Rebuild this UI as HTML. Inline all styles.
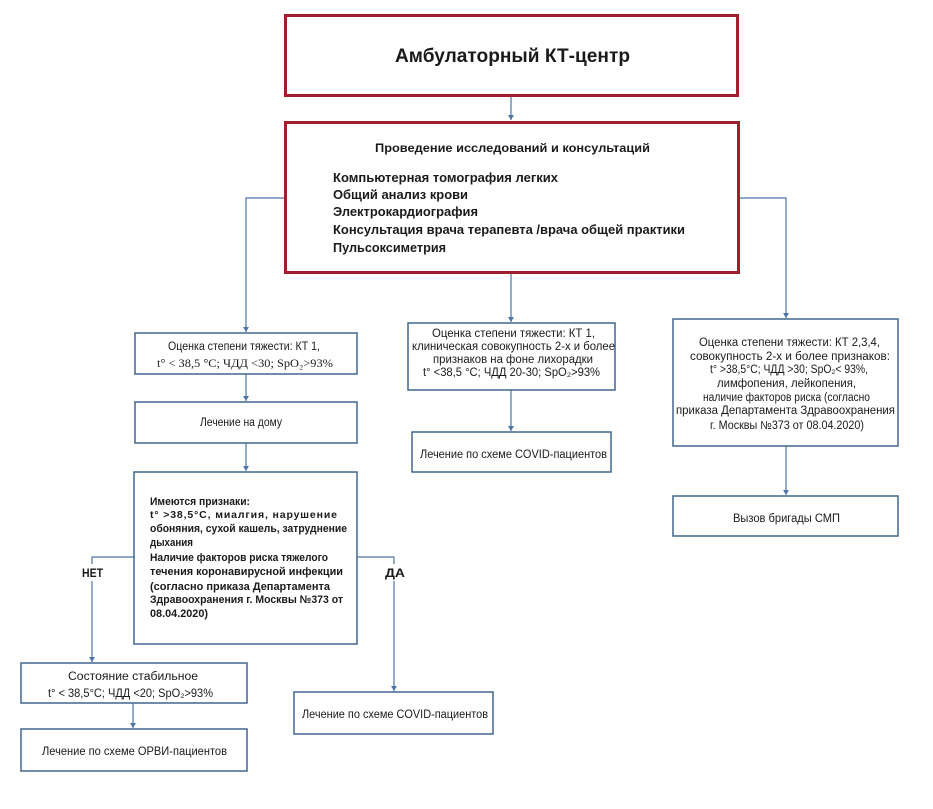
<!DOCTYPE html>
<html><head><meta charset="utf-8"><style>
html,body{margin:0;padding:0;background:#fff;}
svg{display:block;}
text{font-family:"Liberation Sans","DejaVu Sans",sans-serif;fill:#1a1a1a;}
.s{font-family:"Liberation Serif",serif;}
</style></head><body>
<svg width="933" height="809" viewBox="0 0 933 809" xmlns="http://www.w3.org/2000/svg">
<defs>
<marker id="ah" markerWidth="8" markerHeight="8" refX="4" refY="7" orient="0" markerUnits="userSpaceOnUse">
<path d="M1,2 L7,2 L4,7 Z" fill="#4d76a6"/>
</marker>
</defs>
<rect width="933" height="809" fill="#fff"/>
<!-- red boxes -->
<rect x="285.5" y="15.5" width="452" height="80" fill="#fff" stroke="#a01f2d" stroke-width="3"/>
<rect x="285.5" y="122.5" width="453" height="150" fill="#fff" stroke="#a01f2d" stroke-width="3"/>
<!-- connectors -->
<g stroke="#4d76a6" stroke-width="1.2" fill="none">
<polyline points="511,97 511,120" marker-end="url(#ah)"/>
<polyline points="284,198 246,198 246,332" marker-end="url(#ah)"/>
<polyline points="740,198 786,198 786,318" marker-end="url(#ah)"/>
<polyline points="511,274 511,322" marker-end="url(#ah)"/>
<polyline points="246,374 246,401" marker-end="url(#ah)"/>
<polyline points="246,443 246,471" marker-end="url(#ah)"/>
<polyline points="511,390 511,431" marker-end="url(#ah)"/>
<polyline points="786,446 786,495" marker-end="url(#ah)"/>
<polyline points="134,557 92,557 92,662" marker-end="url(#ah)"/>
<polyline points="357,557 394,557 394,691" marker-end="url(#ah)"/>
<polyline points="133,703 133,728" marker-end="url(#ah)"/>
</g>
<!-- blue boxes -->
<g fill="#fff" stroke="#41668f" stroke-width="1.5">
<rect x="135" y="333" width="222" height="41"/>
<rect x="135" y="402" width="222" height="41"/>
<rect x="134" y="472" width="223" height="172"/>
<rect x="21" y="663" width="226" height="40"/>
<rect x="21" y="729" width="226" height="42"/>
<rect x="294" y="692" width="199" height="42"/>
<rect x="408" y="323" width="207" height="67"/>
<rect x="412" y="432" width="199" height="40"/>
<rect x="673" y="319" width="225" height="127"/>
<rect x="673" y="496" width="225" height="40"/>
</g>
<!-- labels backgrounds -->
<rect x="80" y="564" width="25" height="17" fill="#fff"/>
<rect x="383" y="564" width="24" height="17" fill="#fff"/>
<text x="82" y="577" font-size="12" font-weight="bold" textLength="21" lengthAdjust="spacingAndGlyphs">НЕТ</text>
<text x="385" y="577" font-size="12" font-weight="bold" textLength="20" lengthAdjust="spacingAndGlyphs">ДА</text>

<!-- top -->
<text x="395" y="62" font-size="19" font-weight="bold" textLength="235" lengthAdjust="spacingAndGlyphs">Амбулаторный КТ-центр</text>
<text x="375" y="152" font-size="12" font-weight="bold" textLength="275" lengthAdjust="spacingAndGlyphs">Проведение исследований и консультаций</text>
<g font-size="12.5" font-weight="bold">
<text x="333" y="182" textLength="225" lengthAdjust="spacingAndGlyphs">Компьютерная  томография легких</text>
<text x="333" y="199" textLength="135" lengthAdjust="spacingAndGlyphs">Общий анализ крови</text>
<text x="333" y="216" textLength="145" lengthAdjust="spacingAndGlyphs">Электрокардиография</text>
<text x="333" y="234" textLength="352" lengthAdjust="spacingAndGlyphs">Консультация врача терапевта /врача общей практики</text>
<text x="333" y="252" textLength="113" lengthAdjust="spacingAndGlyphs">Пульсоксиметрия</text>
</g>

<!-- left column -->
<g font-size="11.5">
<text x="168" y="350" textLength="152" lengthAdjust="spacingAndGlyphs">Оценка степени тяжести: КТ 1,</text>
<text class="s" x="157" y="367" textLength="176" lengthAdjust="spacingAndGlyphs">t° &lt; 38,5 °С; ЧДД &lt;30; SpO₂&gt;93%</text>
<text x="200" y="426" textLength="82" lengthAdjust="spacingAndGlyphs">Лечение на дому</text>
</g>
<g font-size="11" font-weight="bold" fill="#222">
<text x="150" y="505" textLength="100" lengthAdjust="spacingAndGlyphs">Имеются признаки:</text>
<text x="150" y="518" font-size="10.5" textLength="187" lengthAdjust="spacing">t°  &gt;38,5°С, миалгия, нарушение</text>
<text x="150" y="532" textLength="197" lengthAdjust="spacingAndGlyphs">обоняния, сухой кашель, затруднение</text>
<text x="150" y="546" textLength="43" lengthAdjust="spacingAndGlyphs">дыхания</text>
<text x="150" y="561" textLength="178" lengthAdjust="spacingAndGlyphs">Наличие факторов риска тяжелого</text>
<text x="150" y="575" textLength="193" lengthAdjust="spacingAndGlyphs">течения коронавирусной инфекции</text>
<text x="150" y="590" textLength="180" lengthAdjust="spacingAndGlyphs">(согласно приказа Департамента</text>
<text x="150" y="603" textLength="193" lengthAdjust="spacingAndGlyphs">Здравоохранения г. Москвы №373 от</text>
<text x="150" y="617" textLength="58" lengthAdjust="spacingAndGlyphs">08.04.2020)</text>
</g>
<g font-size="11.5">
<text x="68" y="680" textLength="130" lengthAdjust="spacingAndGlyphs">Состояние стабильное</text>
<text x="48" y="697" textLength="165" lengthAdjust="spacingAndGlyphs">t° &lt; 38,5°С; ЧДД &lt;20; SpO₂&gt;93%</text>
<text x="42" y="755" textLength="185" lengthAdjust="spacingAndGlyphs">Лечение по схеме ОРВИ-пациентов</text>
<text x="302" y="718" textLength="186" lengthAdjust="spacingAndGlyphs">Лечение по схеме COVID-пациентов</text>
</g>

<!-- center column -->
<g font-size="11.5">
<text x="432" y="337" textLength="163" lengthAdjust="spacingAndGlyphs">Оценка степени тяжести: КТ 1,</text>
<text x="412" y="350" textLength="203" lengthAdjust="spacingAndGlyphs">клиническая совокупность 2-х и более</text>
<text x="433" y="363" textLength="160" lengthAdjust="spacingAndGlyphs">признаков  на фоне лихорадки</text>
<text x="423" y="376" textLength="177" lengthAdjust="spacingAndGlyphs">t° &lt;38,5 °С; ЧДД 20-30; SpO₂&gt;93%</text>
<text x="420" y="458" textLength="187" lengthAdjust="spacingAndGlyphs">Лечение по схеме COVID-пациентов</text>
</g>

<!-- right column -->
<g font-size="11.5">
<text x="699" y="346" textLength="181" lengthAdjust="spacingAndGlyphs">Оценка степени тяжести: КТ 2,3,4,</text>
<text x="690" y="360" textLength="200" lengthAdjust="spacingAndGlyphs">совокупность 2-х и более признаков:</text>
<text x="710" y="373" textLength="158" lengthAdjust="spacingAndGlyphs">t° &gt;38,5°С; ЧДД &gt;30; SpO₂&lt; 93%,</text>
<text x="717" y="387" textLength="139" lengthAdjust="spacingAndGlyphs">лимфопения, лейкопения,</text>
<text x="703" y="401" textLength="167" lengthAdjust="spacingAndGlyphs">наличие факторов риска (согласно</text>
<text x="676" y="414" textLength="219" lengthAdjust="spacingAndGlyphs">приказа Департамента Здравоохранения</text>
<text x="710" y="429" textLength="154" lengthAdjust="spacingAndGlyphs">г. Москвы №373 от 08.04.2020)</text>
<text x="733" y="522" textLength="107" lengthAdjust="spacingAndGlyphs">Вызов бригады СМП</text>
</g>
</svg>
</body></html>
